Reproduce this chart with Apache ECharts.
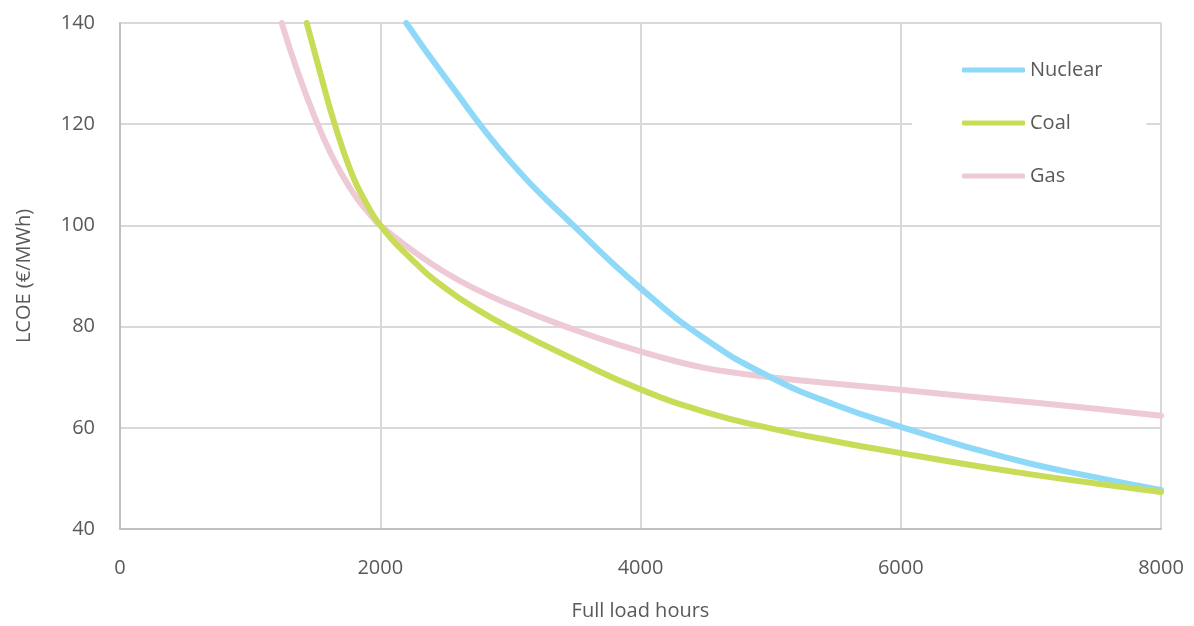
<!DOCTYPE html>
<html>
<head>
<meta charset="utf-8">
<script src="https://cdn.jsdelivr.net/npm/echarts@6/dist/echarts.min.js"></script>
<style>
html,body{margin:0;padding:0;background:#fff;}
#chart{width:1194px;height:626px;}
</style>
</head>
<body>
<div id="chart"></div>
<script>
const seriesNames = ['Nuclear', 'Coal', 'Gas'];
const xTicks = [0, 2000, 4000, 6000, 8000];
const yTicks = [40, 60, 80, 100, 120, 140];

const nuclearHours = [2200, 2500, 3000, 3500, 4000, 4500, 5000, 5500, 6000, 6500, 7000, 7500, 8000];
const nuclearLcoe  = [140, 129.2, 112.6, 99.6, 87.6, 77.5, 70.0, 64.5, 60.2, 56.3, 52.9, 50.2, 47.7];

const coalHours = [1435, 1540, 1650, 1780, 1880, 2000, 2250, 2500, 2750, 3000, 3500, 4000, 4500, 5000, 5500, 6000, 6500, 7000, 7500, 8000];
const coalLcoe  = [140, 130, 120, 110.3, 105, 100, 93.1, 87.6, 83.3, 79.7, 73.4, 67.6, 63.1, 59.9, 57.3, 55.0, 52.8, 50.8, 49.0, 47.3];

const gasHours = [1243, 1370, 1514, 1614, 1714, 1814, 1914, 2000, 2250, 2500, 2750, 3000, 3250, 3500, 3750, 4000, 4250, 4500, 4750, 5000, 5500, 6000, 6500, 7000, 7500, 8000];
const gasLcoe  = [140, 130, 120.3, 114.5, 109.7, 105.6, 102.4, 100, 95, 90.7, 87.2, 84.3, 81.7, 79.3, 77.1, 75.1, 73.3, 71.8, 70.8, 70.0, 68.7, 67.5, 66.25, 65.05, 63.75, 62.4];

const colors = ['#8fd9f8', '#c9dc58', '#eecad6'];
const textColor = '#595959';
const fontFamily = 'Open Sans';

function pairs(xs, ys) { return xs.map((x, i) => [x, ys[i]]); }

const chart = echarts.init(document.getElementById('chart'), null, {renderer: 'canvas'});
chart.setOption({
  animation: false,
  backgroundColor: '#ffffff',
  color: colors,
  textStyle: {fontFamily: fontFamily, color: textColor},
  grid: {left: 120, right: 33, top: 23, bottom: 96, containLabel: false},
  legend: {
    show: true,
    orient: 'vertical',
    left: 912,
    top: 44,
    backgroundColor: '#ffffff',
    padding: [16, 44, 30, 50],
    itemWidth: 63,
    itemHeight: 5,
    itemGap: 33,
    icon: 'roundRect',
    data: seriesNames,
    textStyle: {fontSize: 20, color: textColor, fontFamily: fontFamily}
  },
  xAxis: {
    type: 'value',
    min: xTicks[0],
    max: xTicks[xTicks.length - 1],
    interval: 2000,
    name: 'Full load hours',
    nameLocation: 'middle',
    nameGap: 72,
    nameTextStyle: {fontSize: 20, color: textColor, fontFamily: fontFamily},
    axisLine: {show: true, lineStyle: {color: '#bfbfbf', width: 2}},
    axisTick: {show: false},
    axisLabel: {fontSize: 20, color: textColor, margin: 29, fontFamily: fontFamily, formatter: function (v) { return String(v); }},
    splitLine: {show: true, lineStyle: {color: '#d9d9d9', width: 2}}
  },
  yAxis: {
    type: 'value',
    min: yTicks[0],
    max: yTicks[yTicks.length - 1],
    interval: 20,
    name: 'LCOE (€/MWh)',
    nameLocation: 'middle',
    nameGap: 86,
    nameTextStyle: {fontSize: 20, color: textColor, fontFamily: fontFamily},
    axisLine: {show: true, lineStyle: {color: '#bfbfbf', width: 2}},
    axisTick: {show: false},
    axisLabel: {fontSize: 20, color: textColor, margin: 25, fontFamily: fontFamily},
    splitLine: {show: true, lineStyle: {color: '#d9d9d9', width: 2}}
  },
  series: [
    {name: seriesNames[0], type: 'line', data: pairs(nuclearHours, nuclearLcoe), smooth: 0.5, showSymbol: false, symbol: 'none', lineStyle: {width: 6, color: colors[0], cap: 'round'}, z: 3},
    {name: seriesNames[1], type: 'line', data: pairs(coalHours, coalLcoe), smooth: 0.5, showSymbol: false, symbol: 'none', lineStyle: {width: 6, color: colors[1], cap: 'round'}, z: 4},
    {name: seriesNames[2], type: 'line', data: pairs(gasHours, gasLcoe), smooth: 0.5, showSymbol: false, symbol: 'none', lineStyle: {width: 6, color: colors[2], cap: 'round'}, z: 2}
  ]
});
</script>
</body>
</html>
